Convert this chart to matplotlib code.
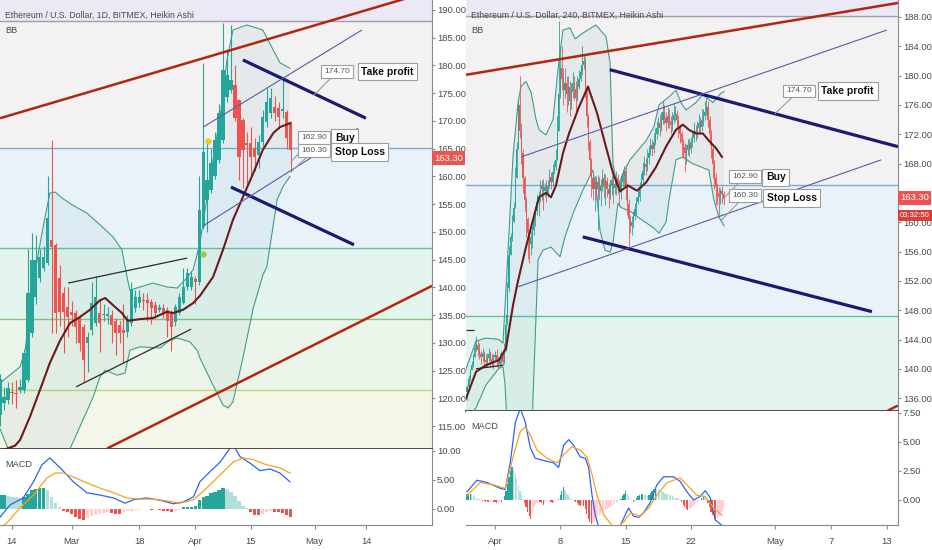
import numpy as np
import matplotlib
matplotlib.use('Agg')
import matplotlib.pyplot as plt
from matplotlib.ticker import FormatStrFormatter, FixedLocator
from matplotlib.transforms import blended_transform_factory

plt.rcParams['font.family'] = ['Liberation Sans', 'DejaVu Sans']

W, H = 932, 550

############# Data: left chart (1D, day 0 = Feb 14) #############
l_days = list(range(-3, 71))
l_open = [117.0, 119.2, 119.7, 121.2, 121.0, 121.5, 121.5, 123.3, 131.8, 138.3, 141.7, 143.5, 144.4,
          148.6, 147.7, 141.7, 139.0, 136.5, 135.6, 135.4, 134.7, 132.9, 130.0, 132.3, 133.6, 135.4,
          135.0, 134.9, 135.0, 134.0, 133.2, 132.3, 132.0, 133.6, 136.3, 137.2, 137.7, 137.7, 137.4,
          136.8, 136.0, 136.3, 136.0, 135.4, 133.8, 135.4, 137.2, 140.1, 140.0, 141.5, 141.0, 150.9,
          155.8, 157.6, 160.0, 163.0, 166.6, 174.3, 175.6, 176.5, 173.8, 170.2, 166.0, 166.0, 165.1,
          163.9, 166.2, 169.8, 171.4, 172.5, 172.3, 171.8, 171.6, 169.6]
l_close = [123.5, 120.3, 121.9, 120.9, 120.8, 122.0, 128.2, 139.0, 145.0, 145.0, 145.5, 145.5, 152.5,
           147.3, 135.4, 135.6, 135.6, 134.7, 135.0, 132.9, 130.0, 126.9, 131.0, 137.2, 138.3, 133.6,
           135.2, 135.1, 133.2, 131.8, 131.8, 131.8, 134.0, 139.5, 138.3, 138.3, 137.5, 137.2, 136.3,
           135.4, 136.5, 135.4, 134.0, 132.9, 136.5, 138.3, 140.0, 142.6, 141.9, 141.0, 154.0, 164.4,
           159.4, 162.4, 166.6, 171.4, 179.2, 178.3, 177.4, 170.5, 163.5, 164.8, 165.6, 163.5, 163.5,
           166.2, 170.7, 173.4, 174.1, 171.4, 170.7, 172.2, 166.9, 164.8]
l_high = [124.5, 122.0, 123.0, 123.0, 123.3, 123.5, 129.0, 147.0, 149.8, 149.5, 147.0, 147.5, 160.0,
          166.6, 148.0, 144.0, 140.0, 140.0, 137.5, 136.0, 135.0, 133.5, 132.0, 141.0, 142.0, 138.0,
          137.0, 136.5, 136.0, 134.5, 134.0, 137.0, 135.0, 141.0, 139.5, 139.5, 139.0, 139.0, 138.0,
          137.5, 137.0, 137.0, 136.5, 136.0, 137.0, 139.0, 143.5, 143.5, 143.0, 142.0, 160.0, 180.5,
          166.0, 165.0, 168.0, 173.0, 187.7, 183.0, 187.3, 180.0, 174.0, 170.5, 168.0, 169.0, 167.0,
          167.5, 172.0, 176.0, 176.0, 174.5, 173.5, 178.0, 172.0, 170.0]
l_low = [115.0, 118.0, 119.0, 119.0, 118.3, 121.0, 121.0, 123.0, 131.0, 137.0, 141.0, 143.0, 144.0,
         131.8, 131.8, 133.0, 128.2, 131.0, 133.0, 130.0, 128.5, 123.0, 124.8, 131.5, 133.0, 128.4,
         134.0, 133.5, 130.0, 127.8, 130.0, 126.4, 131.0, 133.0, 135.5, 136.5, 136.0, 134.0, 133.5,
         134.5, 135.5, 134.5, 131.0, 128.5, 133.0, 135.0, 137.0, 139.5, 139.5, 137.0, 140.5, 150.5,
         150.0, 157.0, 159.5, 162.5, 166.0, 173.5, 175.0, 170.0, 159.4, 158.0, 158.0, 160.0, 161.0,
         161.5, 165.5, 169.0, 170.5, 170.0, 168.5, 170.5, 165.0, 160.8]

# Bollinger bands (day, price)
l_bb_up_d = [-3, 2, 3.3, 5.3, 7.8, 9.5, 10.8, 12.6, 15.1, 18.8, 22.1, 25.4, 27.6, 28.9, 29.6, 32.2,
             35.4, 38.9, 41.5, 43.5, 45.5, 47.2, 48.5, 50.5, 52.5, 54, 55.5, 59, 63, 65.6, 67.3, 69.8]
l_bb_up = [122.8, 125.7, 128.7, 140.8, 150.9, 157.0, 157.2, 156.1, 154.9, 153.4, 151.3, 149.1, 146.8,
           141.9, 139.5, 140.1, 140.8, 140.1, 139.9, 141.4, 143.2, 148.0, 154.0, 163.0, 172.0, 181.0,
           186.4, 187.3, 186.4, 182.8, 180.5, 179.5]
l_bb_lo_d = [-3, -1, 2, 6, 10.3, 14.6, 20.4, 22.1, 23.4, 26.4, 28.4, 29.6, 32.2, 37.2, 39.7, 41.5,
             44.7, 46.5, 47.2, 50.5, 53, 54.3, 55.5, 58, 60.6, 63, 64, 66.6, 68.1, 69.8]
l_bb_lo = [114.5, 111.0, 106.0, 100.0, 100.0, 111.0, 120.3, 123.9, 125.1, 124.2, 124.6, 128.7, 129.3,
           129.1, 130.5, 130.9, 130.2, 128.7, 127.3, 122.4, 118.8, 118.3, 119.4, 127.3, 136.3, 142.2,
           143.7, 155.8, 158.2, 160.0]
l_bb_mid_d = [-3, 0.75, 2, 4.5, 7, 9.5, 12.1, 14.6, 17.1, 19.6, 22.1, 23.4, 25.4, 27.6, 29.1, 32.2,
              35.4, 38.9, 40.5, 43, 45.5, 47.2, 50.5, 53, 55.5, 58, 60.6, 63, 65.6, 67.3, 69.8]
l_bb_mid = [110.5, 111.5, 112.5, 116.7, 121.5, 126.4, 130.5, 133.6, 134.7, 136.0, 137.7, 138.1, 136.8,
            135.4, 134.0, 134.3, 134.5, 135.6, 135.4, 136.0, 137.2, 138.5, 141.9, 146.8, 152.2, 156.3,
            160.6, 164.8, 167.8, 168.9, 169.6]

# MACD (left)
l_macd_d = [-3, -0.5, 2.8, 5.4, 7.5, 9.5, 12.1, 15.4, 18.8, 22.1, 25.5, 28.4, 30.5, 33.8, 37.2, 40.5,
            43.0, 45.6, 47.2, 49.7, 52.3, 54.8, 56.0, 57.3, 59.8, 62.3, 64.8, 67.3, 69.8]
l_macd = [-1.4, 0.7, 1.9, 4.7, 7.6, 8.8, 7.1, 4.7, 2.8, 2.4, 1.9, 1.0, 1.6, 1.9, 1.5, 0.9, 1.2, 2.1,
          4.7, 6.4, 8.1, 10.5, 10.5, 9.0, 7.9, 6.6, 6.9, 6.2, 4.7]
l_sig_d = [-3, -1.3, 2.0, 5.4, 8.7, 10.8, 12.9, 15.4, 18.8, 22.1, 25.5, 28.8, 32.2, 35.5, 38.9, 42.2,
           45.6, 48.9, 52.3, 55.6, 58.1, 60.6, 64.0, 67.3, 69.8]
l_sig = [-3.3, -2.4, 0.2, 2.4, 5.3, 6.2, 6.2, 5.5, 4.5, 3.6, 2.8, 1.9, 1.7, 1.7, 1.4, 1.0, 1.6, 3.6,
         5.9, 8.1, 8.8, 8.5, 7.6, 7.1, 6.2]
l_hist = [2.4, 2.4, 2.3, 2.1, 2.0, 1.9, 2.0, 2.6, 3.2, 3.5, 3.6, 3.6, 3.3, 2.0, 1.0, 0.3, -0.3, -0.6,
          -0.9, -1.3, -1.7, -1.9, -1.5, -1.2, -1.0, -0.8, -0.7, -0.6, -0.7, -0.8, -0.9, -0.6, -0.4,
          -0.3, -0.2, -0.1, 0.0, -0.05, -0.1, 0.0, -0.2, -0.3, -0.4, -0.5, -0.3, -0.1, 0.3, 0.4, 0.4,
          0.5, 1.5, 2.0, 2.3, 2.7, 3.0, 3.3, 3.6, 3.5, 3.0, 2.2, 1.3, 0.6, 0.2, -0.6, -1.0, -1.0,
          -0.8, -0.6, -0.4, -0.5, -0.6, -0.7, -1.0, -1.4]

# drawings (day, price)
l_red_up = ([-3, 100], [170.5, 192.3])
l_red_lo = ([23.9, 105.5], [111.0, 140.3])
l_navy_up = ([58, 88.9], [181.0, 170.5])
l_navy_lo = ([55, 85.9], [158.1, 147.7])
l_thin_up = ([48, 87.9], [168.9, 186.4])
l_thin_lo = ([48, 86.9], [151.1, 168.7])
l_blk_up = ([14.1, 44], [140.8, 145.3])
l_blk_lo = ([16.1, 45], [122.1, 132.5])

############# Data: right chart (240, day 0 = Apr 1) #############
r_close = [
    137.5, 138.6, 139.8, 140.5, 141.6, 142.8, 143.3,
    142.6, 142.0, 141.6, 142.1, 141.2, 140.9, 141.5, 142.0, 141.3, 140.8, 141.6, 141.9, 141.2, 140.7, 141.4, 141.8, 141.0,
    142.5, 146.0, 151.0, 155.5, 158.0, 160.0, 162.0, 166.0, 170.0, 176.0,
    172.5, 169.5, 166.0, 163.0, 160.5, 158.5, 157.0, 158.0,
    159.0, 160.5, 161.5, 162.8, 163.5, 164.5, 165.0, 164.2, 164.8, 164.0,
    165.0, 166.2, 165.5, 166.8, 167.5, 168.5,
    172.5, 177.5, 181.0,
    179.5, 178.0, 179.0, 177.5, 178.5, 176.5, 177.8, 179.0, 178.2, 177.0, 178.5, 179.5, 180.5, 181.5, 182.0,
    178.0, 174.5, 171.0, 168.5, 166.0, 164.5, 165.5,
    164.5, 165.5, 164.2, 165.0, 166.0, 164.8, 165.6, 164.5, 163.8, 164.9, 165.8, 164.6, 165.2, 166.0, 165.0, 164.2,
    165.5, 166.5, 167.0, 165.0, 162.5, 160.5, 159.5, 160.0, 160.8,
    161.8, 162.8, 163.5, 164.8, 165.8, 167.0,
    168.0, 167.5, 168.8, 169.5, 170.5, 170.0, 171.0,
    172.0, 172.8, 173.5, 172.8, 174.0, 175.0,
    174.2, 173.5, 174.5, 173.8, 173.2, 174.0, 174.6, 174.8,
    174.0, 173.0, 172.0, 171.0, 170.2, 169.5, 169.8,
    170.5, 170.0, 171.0, 171.5, 172.5, 172.0,
    172.8, 173.5, 173.0, 174.0, 174.5, 175.0, 175.7,
    174.0, 172.0, 170.0, 168.0, 166.0, 164.8,
    164.0, 163.5, 164.2, 163.8, 163.3,
]
r_first_open = 136.8
r_wick_up = [
    0.3, 0.5, 0.2, 0.6, 0.4, 0.8, 1.2,
    0.6, 0.9, 0.5, 0.7, 0.4, 0.8, 0.6, 0.9, 0.5, 0.7, 0.4, 0.6, 0.8, 0.5, 0.7, 0.6, 0.9,
    1.0, 1.5, 0.8, 1.2, 0.5, 1.0, 0.8, 1.5, 1.0, 1.0,
    4.0, 1.0, 0.5, 0.3, 0.5, 0.2, 0.4, 0.8,
    0.5, 0.8, 0.6, 1.0, 0.7, 1.2, 0.8, 0.9, 0.6, 1.0,
    0.8, 1.0, 0.6, 1.2, 0.8, 1.5,
    2.0, 10.0, 3.0,
    3.0, 1.5, 2.0, 1.0, 1.5, 0.8, 1.2, 1.5, 0.9, 1.0, 1.5, 1.2, 1.0, 2.5, 1.0,
    0.5, 0.3, 0.2, 0.4, 0.3, 0.5, 0.8,
    0.8, 1.0, 0.6, 0.9, 1.2, 0.7, 1.0, 0.5, 0.8, 1.0, 0.6, 0.9, 0.7, 1.0, 0.6, 0.8,
    1.0, 0.8, 0.6, 0.5, 0.4, 0.6, 0.5, 0.8, 0.7,
    0.8, 0.6, 1.0, 0.7, 0.9, 1.2,
    1.0, 0.8, 1.2, 0.9, 1.0, 0.8, 1.2,
    0.8, 1.0, 0.9, 1.2, 1.0, 1.5,
    1.0, 0.8, 1.2, 0.9, 0.7, 1.0, 1.5, 1.0,
    0.5, 0.6, 0.4, 0.5, 0.3, 0.6, 0.8,
    0.8, 1.0, 0.6, 0.9, 1.2, 0.8,
    1.0, 1.2, 0.8, 1.5, 1.0, 1.5, 1.8,
    0.8, 0.5, 0.6, 0.4, 0.5, 0.7,
    0.6, 0.8, 0.5, 0.7, 0.4,
]
r_wick_dn = [
    1.0, 0.0, 0.3, 0.0, 0.2, 0.0, 0.4,
    0.8, 0.6, 1.0, 0.5, 0.9, 0.7, 0.6, 0.4, 1.1, 0.6, 0.8, 0.5, 0.9, 0.7, 0.6, 0.8, 0.5,
    0.3, 0.0, 0.0, 0.5, 0.0, 0.6, 0.0, 0.0, 0.0, 0.0,
    1.0, 1.5, 2.0, 1.5, 2.5, 3.5, 2.5, 1.5,
    1.5, 0.8, 1.0, 0.5, 2.0, 0.7, 1.5, 2.5, 0.8, 1.2,
    0.5, 0.3, 1.0, 0.5, 0.2, 0.4,
    0.0, 0.0, 0.5,
    1.5, 2.0, 1.0, 2.5, 1.5, 2.0, 1.0, 0.8, 1.5, 2.0, 0.5, 0.3, 0.2, 0.4, 0.6,
    1.0, 1.5, 1.2, 2.0, 2.5, 1.5, 3.0,
    1.5, 5.5, 1.0, 2.0, 0.8, 1.5, 2.5, 1.0, 1.8, 0.6, 1.2, 2.0, 0.8, 1.5, 1.0, 2.0,
    1.0, 0.5, 1.5, 2.0, 1.5, 3.9, 1.0, 1.2, 0.8,
    0.5, 0.8, 0.3, 0.6, 0.2, 0.4,
    0.6, 1.0, 0.5, 0.8, 0.4, 1.0, 0.5,
    0.5, 0.6, 0.8, 1.0, 0.4, 0.6,
    0.8, 1.0, 0.6, 0.9, 1.2, 0.7, 0.5, 0.8,
    1.0, 1.5, 1.2, 2.0, 1.5, 2.5, 1.5,
    0.6, 1.0, 0.5, 0.8, 0.6, 0.9,
    0.5, 0.8, 1.0, 0.6, 0.9, 0.5, 0.4,
    1.0, 1.5, 1.2, 2.0, 1.5, 2.5,
    1.5, 2.5, 1.0, 1.2, 1.0,
]

# bands, read at candle index k (4h bars)
r_bb_up_k = [-0.6, 5.8, 12.2, 20.6, 23.1, 25.1, 29.6, 32.8, 34.7, 37.9, 41.2, 44.4, 46.3, 50.8, 55.3,
             58.5, 61.7, 66.2, 69.5, 74.6, 82.9, 89.4, 92.0, 93.2, 93.9, 95.8, 97.7, 100.3, 104.8,
             115.1, 120.2, 123.5, 129.9, 134.4, 137.6, 140.8, 147.2, 151.7, 158.2, 163.3, 165.3]
r_bb_up = [140.0, 143.8, 144.2, 144.0, 143.5, 151.0, 169.0, 176.3, 178.5, 179.2, 177.7, 174.0, 172.6,
           171.9, 174.0, 180.8, 186.2, 186.5, 185.0, 185.8, 186.9, 185.3, 181.7, 172.6, 168.0, 165.8,
           165.0, 166.7, 168.5, 171.1, 173.0, 176.0, 177.1, 178.0, 176.3, 175.3, 176.3, 177.4, 176.3,
           177.6, 177.8]
r_bb_lo_k = [-0.6, 5.8, 12.2, 20.6, 23.1, 24.4, 26.4, 30.9, 37.3, 41.2, 42.4, 45.7, 48.9, 54.0, 59.8,
             63.0, 68.2, 74.6, 81.0, 83.6, 85.5, 88.7, 92.0, 93.9, 97.1, 99.0, 104.8, 111.2, 120.2,
             123.5, 128.0, 129.9, 134.4, 138.9, 144.0, 147.2, 155.6, 158.8, 162.0, 165.3]
r_bb_lo = [133.0, 134.7, 137.8, 140.1, 140.3, 138.0, 130.0, 115.0, 110.0, 125.0, 135.8, 154.9, 156.2,
           156.6, 155.3, 158.0, 161.2, 164.4, 167.1, 163.4, 158.9, 156.2, 155.9, 157.2, 162.6, 162.0,
           161.5, 160.5, 159.2, 158.5, 160.0, 163.0, 168.5, 168.9, 168.1, 167.8, 167.1, 163.0, 160.7,
           159.5]
r_bb_mid_k = [-0.6, 5.8, 12.2, 20.6, 25.1, 29.6, 32.8, 37.9, 42.4, 46.3, 50.8, 54.0, 57.2, 61.7, 65.6,
              72.0, 77.8, 83.6, 88.7, 93.9, 98.4, 103.5, 109.3, 115.1, 121.5, 128.0, 134.4, 138.9,
              142.7, 147.2, 151.7, 155.6, 160.1, 164.0]
r_bb_mid = [136.0, 139.6, 140.5, 141.2, 142.8, 148.7, 152.0, 156.6, 160.3, 163.4, 164.0, 163.4, 165.0,
            169.4, 172.1, 175.7, 178.5, 174.9, 170.8, 166.7, 164.2, 165.0, 164.3, 165.4, 167.5, 170.3,
            172.6, 173.3, 172.6, 172.1, 172.1, 171.1, 170.1, 168.9]

# MACD (right)
r_macd_k = [0, 6.4, 12.9, 21.4, 24.6, 27.9, 31.1, 34.3, 37.5, 40.7, 43.9, 49.3, 55.7, 58.9, 62.1,
            65.4, 68.6, 72.9, 76.1, 78.2, 80.4, 82.5, 84.6, 87, 95, 99.6, 103.9, 107.1, 110.4, 113.6,
            117.9, 122.1, 126.4, 132.9, 137.1, 141.4, 145.7, 150, 153.2, 156.4, 159.6, 163.9]
r_macd = [0.7, 1.7, 1.5, 1.0, 0.9, 3.3, 6.7, 7.9, 6.7, 4.5, 3.6, 3.4, 3.2, 2.8, 4.7, 5.2, 4.7, 3.7,
          3.6, 2.8, 0.4, -1.3, -2.3, -3.5, -3.5, -1.9, -0.7, -1.4, -1.5, -1.1, -0.2, 1.3, 2.0, 2.0,
          1.6, 0.7, 0.0, 0.3, 0.8, 0.2, -1.7, -2.2]
r_sig_k = [0, 8.6, 17.1, 24.6, 30, 34.3, 37.5, 40.7, 45, 51.4, 57.9, 62.1, 67.5, 72.9, 77.1, 80.4,
           83.6, 87.9, 92.1, 95, 100.7, 105, 111.4, 116.8, 122.1, 128.6, 137.1, 143.6, 147.9, 153.2,
           158.6, 163.9]
r_sig = [0.4, 1.5, 1.3, 1.0, 3.9, 5.9, 6.3, 5.6, 4.3, 3.6, 3.2, 3.9, 4.6, 4.3, 3.7, 2.2, 0.4, -1.3,
         -2.0, -2.6, -1.9, -1.1, -1.4, -0.7, 0.4, 1.5, 1.9, 1.0, 0.4, 0.3, -0.7, -1.3]
r_hist = [
    0.5, 0.5, 0.55, 0.5, 0.45, 0.3, 0.2,
    0.1, 0.05, 0.0, -0.05,
    -0.1, -0.15, -0.2, -0.2, -0.15, -0.1, -0.15, -0.2, -0.25, -0.2, -0.15, -0.2, -0.1,
    0.3, 0.8, 1.4, 2.0, 2.5, 2.8,
    2.6, 2.2, 1.8, 1.3, 0.8, 0.4, 0.1,
    -0.3, -0.6, -1.0, -1.4, -1.6, -1.1,
    -0.6, -0.4, -0.3, -0.2, -0.2,
    -0.3, -0.45, -0.3, -0.15,
    -0.1, -0.05, -0.15, -0.25, -0.2, -0.1, 0.0, 0.1,
    0.4, 0.8, 1.1, 0.9, 0.6,
    0.4, 0.25, 0.1, 0.0,
    -0.1, -0.2, -0.3, -0.4, -0.5, -0.45, -0.5,
    -0.8, -1.2, -1.6, -1.9, -2.1, -2.0, -1.8,
    -1.6, -1.4, -1.3, -1.2, -1.1, -1.0, -0.9, -0.8, -0.7, -0.6, -0.5, -0.4, -0.3, -0.25, -0.2, -0.1,
    0.1, 0.3, 0.5, 0.75, 0.5, 0.3, 0.1, 0.0,
    -0.2, -0.1,
    0.2, 0.35, 0.45, 0.5, 0.5, 0.45, 0.4, 0.35, 0.45, 0.6, 0.8, 0.95, 1.0,
    0.95, 0.9, 0.85, 0.75, 0.7, 0.6, 0.55, 0.5, 0.45, 0.4, 0.3, 0.25, 0.2, 0.15, 0.1, 0.05,
    -0.2, -0.4, -0.6, -0.8, -0.9, -0.85, -0.7,
    -0.5, -0.4, -0.3, -0.2, -0.1, 0.0,
    0.15, 0.3, 0.25, 0.1,
    -0.3, -0.6, -1.0, -1.3, -1.6, -1.8,
    -1.6, -1.4, -1.2, -1.0, -0.8,
]

# drawings (day, price)
r_red_up = ([-3.11, 43.2], [180.1, 189.9])
r_red_lo = ([42.1, 43.2], [134.3, 135.0])
r_navy_up = ([12.3, 43.2], [180.8, 170.3])
r_navy_lo = ([9.4, 40.4], [158.0, 147.8])
r_thin_up = ([2.8, 42.0], [168.9, 186.2])
r_thin_lo = ([2.5, 41.4], [151.2, 168.5])
r_blk_1 = ([-3.11, -2.25], [145.3, 145.3])
r_blk_2 = ([-2.04, 0.86], [140.0, 140.5])

# horizontal levels and background zones
levels = [188.1, 165.1, 147.2, 134.3, 121.5]
level_colors = ['#a09cb4', '#78acd0', '#5cc4a4', '#86c47a', '#bcd877']
zone_colors = ['#ece9f7', '#f3f1f1', '#e9f2f8', '#e4f4ee', '#ecf5e9', '#f5f6ea']

GREEN = '#26a69a'
RED = '#ef5350'
TXT = '#4a4a4a'
FS = 6.8

############# helpers #############
fig = plt.figure(figsize=(W / 100, H / 100), dpi=100)
fig.patch.set_facecolor('white')


def px_axes(x0, y0, x1, y1):
    return fig.add_axes([x0 / W, 1 - y1 / H, (x1 - x0) / W, (y1 - y0) / H])


def style_axis(ax, ylim, ticks, fmt='%.2f'):
    ax.set_ylim(*ylim)
    ax.yaxis.tick_right()
    ax.yaxis.set_major_locator(FixedLocator(ticks))
    ax.yaxis.set_major_formatter(FormatStrFormatter(fmt))
    ax.tick_params(axis='y', colors='#8a8a8a', labelcolor=TXT, labelsize=FS, length=2, pad=1.5)
    for s in ['top', 'left']:
        ax.spines[s].set_visible(False)
    ax.spines['right'].set_color('#8a8a8a')
    ax.spines['bottom'].set_color('#4a4a4a')
    ax.spines['bottom'].set_linewidth(1.4)


def zones(ax, ylim):
    bounds = [ylim[1] + 5] + levels + [ylim[0] - 5]
    for i, col in enumerate(zone_colors):
        ax.axhspan(bounds[i + 1], bounds[i], color=col, zorder=0, lw=0)
    for lv, col in zip(levels, level_colors):
        ax.axhline(lv, color=col, lw=1.0, zorder=1)


def candles(ax, xs, o, h, l, c, width, lw):
    xs, o, h, l, c = map(np.asarray, (xs, o, h, l, c))
    cols = np.where(c >= o, GREEN, RED)
    ax.vlines(xs, l, h, colors=cols, lw=lw, zorder=4)
    ax.bar(xs, np.maximum(np.abs(c - o), 0.25), width, bottom=np.minimum(o, c),
           color=cols, linewidth=0, zorder=5)


def bands(ax, up_x, up, lo_x, lo, mid_x, mid):
    px = np.concatenate([up_x, np.asarray(lo_x)[::-1]])
    py = np.concatenate([up, np.asarray(lo)[::-1]])
    ax.fill(px, py, color='#4d8fa6', alpha=0.08, lw=0, zorder=2)
    ax.plot(up_x, up, color='#3f9e8c', lw=0.8, zorder=3)
    ax.plot(lo_x, lo, color='#3f9e8c', lw=0.8, zorder=3)
    ax.plot(mid_x, mid, color='#6b1a1a', lw=1.5, zorder=6)


def seg(ax, line, color, lw):
    ax.plot(line[0], line[1], color=color, lw=lw, solid_capstyle='butt', zorder=7)


def hist_colors(hv):
    cols = []
    for i, v in enumerate(hv):
        prev = hv[i - 1] if i else v
        if v >= 0:
            cols.append('#26a69a' if v >= prev else '#b2dfdb')
        else:
            cols.append('#ffcdd2' if v > prev else '#ef5350')
    return cols


box = dict(boxstyle='square,pad=0.35', fc='white', ec='#9c9c9c', lw=0.8)


def callout(ax, text, pos, tip=None, bold=False):
    kw = dict(fontsize=7.5, fontweight='bold', color='#111111') if bold else \
        dict(fontsize=6.0, color='#555555')
    if tip is None:
        ax.annotate(text, xy=pos, ha='center', va='center', bbox=box, zorder=10,
                    annotation_clip=False, **kw)
    else:
        ax.annotate(text, xy=tip, xytext=pos, ha='center', va='center', bbox=box, zorder=10,
                    annotation_clip=False,
                    arrowprops=dict(arrowstyle='-', color='#9c9c9c', lw=0.8, shrinkA=0, shrinkB=0),
                    **kw)


def price_tag(ax, y, text, col, fs=FS):
    tr = blended_transform_factory(ax.transAxes, ax.transData)
    ax.text(1.005, y, text, transform=tr, ha='left', va='center', color='white', fontsize=fs,
            zorder=20, clip_on=False, bbox=dict(boxstyle='square,pad=0.25', fc=col, ec='none'))


def time_axis(ax, ticks, labels):
    ax.xaxis.set_major_locator(FixedLocator(ticks))
    ax.set_xticklabels(labels)
    ax.tick_params(axis='x', colors='#8a8a8a', labelcolor=TXT, labelsize=FS, length=3, pad=6)


############# left chart #############
l_ylim = (110.9, 191.8)
l_xlim = (-3.02, 105.5)
ax_l = px_axes(0, 0, 432, 449)
ax_lm = px_axes(0, 449, 432, 525)

zones(ax_l, l_ylim)
bands(ax_l, l_bb_up_d, l_bb_up, l_bb_lo_d, l_bb_lo, l_bb_mid_d, l_bb_mid)
candles(ax_l, l_days, l_open, l_high, l_low, l_close, 0.8, 0.8)
seg(ax_l, l_red_up, '#b3260e', 1.8)
seg(ax_l, l_red_lo, '#b3260e', 1.8)
seg(ax_l, l_navy_up, '#1d1870', 2.3)
seg(ax_l, l_navy_lo, '#1d1870', 2.3)
seg(ax_l, l_thin_up, '#5b5ca6', 0.8)
seg(ax_l, l_thin_lo, '#5b5ca6', 0.8)
seg(ax_l, l_blk_up, '#2b2b2b', 0.9)
seg(ax_l, l_blk_lo, '#2b2b2b', 0.9)
ax_l.plot([49.2], [166.4], 'o', color='#f2c811', ms=3.5, zorder=8)
ax_l.plot([48.0], [146.0], 'o', color='#8fd14f', ms=3.5, zorder=8)
ax_l.set_xlim(*l_xlim)
style_axis(ax_l, l_ylim, np.arange(115, 191, 5))
ax_l.set_xticks([])

callout(ax_l, '174.70', (81.7, 178.9), (75.9, 174.7))
callout(ax_l, 'Take profit', (94.3, 178.9), bold=True)
callout(ax_l, '162.90', (75.9, 167.1), (70.0, 162.6))
callout(ax_l, 'Buy', (83.6, 167.0), bold=True)
callout(ax_l, '160.30', (75.9, 164.7), (70.0, 160.8))
callout(ax_l, 'Stop Loss', (87.3, 164.4), bold=True)
price_tag(ax_l, 163.3, '163.30', RED)

ax_l.text(0.011, 0.967, 'Ethereum / U.S. Dollar, 1D, BITMEX, Heikin Ashi', transform=ax_l.transAxes,
          fontsize=6.3, color=TXT, va='center', zorder=12)
ax_l.text(0.011, 0.931, 'BB', transform=ax_l.transAxes, fontsize=6.6, color=TXT, va='center', zorder=12)

ax_lm.bar(l_days, l_hist, 0.8, color=hist_colors(l_hist), linewidth=0, zorder=2)
ax_lm.plot(l_macd_d, l_macd, color='#2962ff', lw=0.9, zorder=3)
ax_lm.plot(l_sig_d, l_sig, color='#f7a21b', lw=0.9, zorder=3)
ax_lm.set_xlim(*l_xlim)
style_axis(ax_lm, (-2.76, 10.34), [0, 5, 10])
ax_lm.spines['bottom'].set_color('#8a8a8a')
ax_lm.spines['bottom'].set_linewidth(0.8)
time_axis(ax_lm, [0, 15, 32, 46, 60, 76, 89], ['14', 'Mar', '18', 'Apr', '15', 'May', '14'])
ax_lm.text(0.011, 0.79, 'MACD', transform=ax_lm.transAxes, fontsize=6.6, color=TXT, va='center')

############# right chart #############
r_ylim = (134.25, 190.3)
r_xlim = (-3.11, 43.2)
ax_r = px_axes(466, 0, 898, 411)
ax_rm = px_axes(466, 411, 898, 525)

r_close_a = np.array(r_close)
r_open = np.concatenate([[r_first_open], r_close_a[:-1]])
r_high = np.maximum(r_open, r_close_a) + np.array(r_wick_up)
r_low = np.minimum(r_open, r_close_a) - np.array(r_wick_dn)
r_k = np.arange(len(r_close))
r_x = -3 + r_k / 6.0

zones(ax_r, r_ylim)
bands(ax_r, -3 + np.array(r_bb_up_k) / 6.0, r_bb_up, -3 + np.array(r_bb_lo_k) / 6.0, r_bb_lo,
      -3 + np.array(r_bb_mid_k) / 6.0, r_bb_mid)
candles(ax_r, r_x, r_open, r_high, r_low, r_close_a, 0.75 / 6, 0.6)
seg(ax_r, r_red_up, '#b3260e', 1.8)
seg(ax_r, r_red_lo, '#b3260e', 1.8)
seg(ax_r, r_navy_up, '#1d1870', 2.3)
seg(ax_r, r_navy_lo, '#1d1870', 2.3)
seg(ax_r, r_thin_up, '#5b5ca6', 0.8)
seg(ax_r, r_thin_lo, '#5b5ca6', 0.8)
seg(ax_r, r_blk_1, '#2b2b2b', 0.9)
seg(ax_r, r_blk_2, '#2b2b2b', 0.9)
ax_r.set_xlim(*r_xlim)
# the 164 label sits under the price tag in the reference, so it is left out
style_axis(ax_r, r_ylim, [136, 140, 144, 148, 152, 156, 160, 168, 172, 176, 180, 184, 188])
ax_r.set_xticks([])

callout(ax_r, '174.70', (32.6, 177.9), (30.0, 174.8))
callout(ax_r, 'Take profit', (37.8, 177.9), bold=True)
callout(ax_r, '162.90', (26.8, 166.2), (24.3, 163.0))
callout(ax_r, 'Buy', (30.1, 166.1), bold=True)
callout(ax_r, '160.30', (26.8, 163.6), (24.3, 160.3))
callout(ax_r, 'Stop Loss', (31.8, 163.3), bold=True)
price_tag(ax_r, 163.3, '163.30', RED)
price_tag(ax_r, 160.9, '03:32:50', '#d9403a', fs=5.6)

ax_r.text(0.011, 0.963, 'Ethereum / U.S. Dollar, 240, BITMEX, Heikin Ashi', transform=ax_r.transAxes,
          fontsize=6.3, color=TXT, va='center', zorder=12)
ax_r.text(0.011, 0.925, 'BB', transform=ax_r.transAxes, fontsize=6.6, color=TXT, va='center', zorder=12)

ax_rm.bar(r_x, r_hist, 0.8 / 6, color=hist_colors(r_hist), linewidth=0, zorder=2)
ax_rm.plot(-3 + np.array(r_macd_k) / 6.0, r_macd, color='#2962ff', lw=0.9, zorder=3)
ax_rm.plot(-3 + np.array(r_sig_k) / 6.0, r_sig, color='#f7a21b', lw=0.9, zorder=3)
ax_rm.set_xlim(*r_xlim)
style_axis(ax_rm, (-2.16, 7.67), [0, 2.5, 5, 7.5])
ax_rm.spines['bottom'].set_color('#8a8a8a')
ax_rm.spines['bottom'].set_linewidth(0.8)
time_axis(ax_rm, [0, 7, 14, 21, 30, 36, 42], ['Apr', '8', '15', '22', 'May', '7', '13'])
ax_rm.text(0.011, 0.86, 'MACD', transform=ax_rm.transAxes, fontsize=6.6, color=TXT, va='center',
           zorder=12)

fig.savefig('out.png', dpi=100)
